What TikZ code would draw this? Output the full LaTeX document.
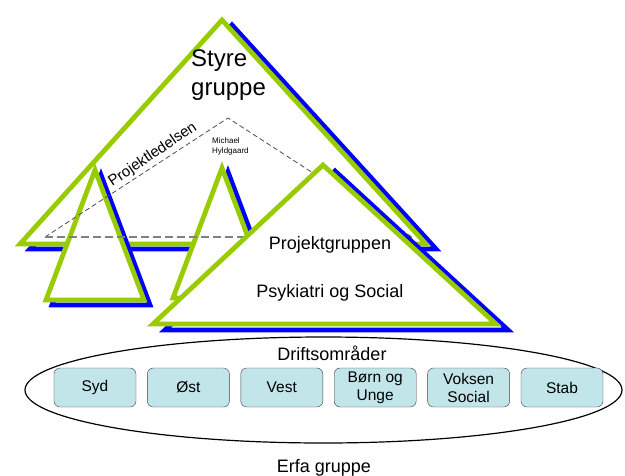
\documentclass[tikz,border=0pt]{standalone}
\usepackage{fontspec}
\setmainfont{Liberation Sans}
\usetikzlibrary{positioning}
\definecolor{pyrgreen}{RGB}{153,204,0}
\definecolor{pyrblue}{RGB}{0,0,255}
\definecolor{unitfill}{RGB}{193,229,233}

\begin{document}
\begin{tikzpicture}[x=1pt, y=-1pt,
  pyr/.style={draw=pyrgreen, fill=white, line width=4.8pt},
  pyrshade/.style={draw=pyrblue, line width=4.8pt},
  sides/.style={draw=black!70, line width=0.8pt, dash pattern=on 5pt off 3pt},
  basedash/.style={draw=black!50, line width=1.5pt, dash pattern=on 8pt off 4pt},
  unit/.style={draw=black!75, fill=unitfill, rounded corners=6pt, minimum width=82pt,
    minimum height=39pt, align=center, inner sep=1pt, font=\fontsize{15.5}{18}\selectfont}]

\useasboundingbox (0,0) rectangle (625,475);

\draw [pyrshade, shift={(10,5)}] (222,20) -- (426,244) -- (20,244) -- cycle;
\filldraw [pyr] (222,20) -- (426,244) -- (20,244) -- cycle;

\draw [pyrshade, shift={(6,5)}] (95,170) -- (144,300) -- (46,300) -- cycle;
\filldraw [pyr] (95,170) -- (144,300) -- (46,300) -- cycle;

\draw [pyrshade, shift={(6,4)}] (222,168) -- (271,298) -- (173,298) -- cycle;
\filldraw [pyr] (222,168) -- (271,298) -- (173,298) -- cycle;

\draw [sides] (45,237) -- (228,118) -- (412,237);
\draw [basedash] (45,237) -- (412,237);

\draw [pyrshade, shift={(12,6)}] (323,165) -- (496,324) -- (153,324) -- cycle;
\filldraw [pyr] (323,165) -- (496,324) -- (153,324) -- cycle;

\node [anchor=base west, align=left, inner sep=0pt, font=\fontsize{24}{29}\selectfont] (styre) at (191,95) {Styre\\gruppe};
\node [rotate=34, anchor=base, inner sep=0pt, font=\fontsize{15}{18}\selectfont] (ledelse) at (155,158) {Projektledelsen};
\node [anchor=north west, align=left, inner sep=0pt, font=\fontsize{8}{10}\selectfont] (michael) at (212,137) {Michael\\Hyldgaard};
\node [anchor=base, font=\fontsize{18}{22}\selectfont] (pgruppe) at (330,249) {Projektgruppen};
\node [anchor=base, font=\fontsize{18}{22}\selectfont] (psyk) at (330,297) {Psykiatri og Social};

\draw [line width=1.2pt] (323.5,390) ellipse [x radius=298.5pt, y radius=53pt];
\node [anchor=base, font=\fontsize{18}{21}\selectfont] (drift) at (332,360) {Driftsområder};

\node [unit] (syd) at (95,387.5) {Syd};
\node [unit, right=11pt of syd] (ost) {Øst};
\node [unit, right=11pt of ost] (vest) {Vest};
\node [unit, right=11pt of vest] (born) {Børn og\\Unge};
\node [unit, right=11pt of born] (voksen) {Voksen\\Social};
\node [unit, right=11pt of voksen] (stab) {Stab};

\node [anchor=base, font=\fontsize{18}{21}\selectfont] (erfa) at (324,472) {Erfa gruppe};

\end{tikzpicture}
\end{document}
